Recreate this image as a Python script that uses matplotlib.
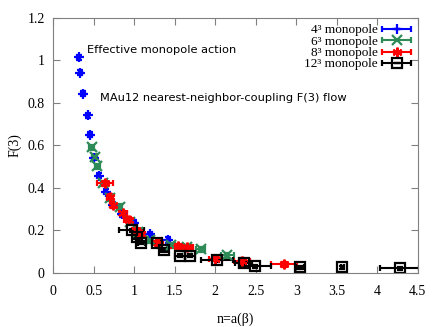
"""F(3) flow of the effective monopole action vs n=a(beta)."""

import matplotlib
matplotlib.use("Agg")
import matplotlib.pyplot as plt
from matplotlib.legend_handler import HandlerErrorbar

# 4^3 monopole
x4 = [0.317, 0.334, 0.367, 0.428, 0.453, 0.50, 0.564, 0.65, 0.74, 0.85, 1.0, 1.2, 1.42]
y4 = [1.013, 0.94, 0.843, 0.741, 0.649, 0.54, 0.456, 0.38, 0.32, 0.276, 0.235, 0.18, 0.154]
x4err = [0.02] * len(x4)
y4err = [0.012] * len(x4)

# 6^3 monopole
x6 = [0.474, 0.515, 0.543, 0.62, 0.70, 0.82, 0.95, 1.05, 1.19, 1.45, 1.65, 1.82, 2.15]
y6 = [0.59, 0.545, 0.50, 0.42, 0.35, 0.31, 0.24, 0.19, 0.154, 0.13, 0.12, 0.11, 0.083]
x6err = [0.03, 0.03, 0.03, 0.03, 0.03, 0.03, 0.03, 0.04, 0.04, 0.05, 0.05, 0.06, 0.08]
y6err = [0.012] * len(x6)

# 8^3 monopole
x8 = [0.64, 0.70, 0.74, 0.86, 0.93, 1.02, 1.08, 1.3, 1.54, 1.65, 2.0, 2.33, 2.85]
y8 = [0.42, 0.357, 0.318, 0.279, 0.248, 0.20, 0.18, 0.14, 0.125, 0.12, 0.065, 0.055, 0.04]
x8err = [0.1, 0.04, 0.04, 0.05, 0.05, 0.05, 0.05, 0.06, 0.08, 0.08, 0.08, 0.1, 0.16]
y8err = [0.012] * len(x8)

# 12^3 monopole
x12 = [0.967, 1.03, 1.09, 1.276, 1.367, 1.564, 1.69, 2.02, 2.35, 2.49, 3.05, 3.57, 4.28]
y12 = [0.20, 0.166, 0.141, 0.138, 0.107, 0.08, 0.08, 0.058, 0.045, 0.03, 0.025, 0.025, 0.02]
x12err = [0.15, 0.04, 0.04, 0.05, 0.05, 0.06, 0.06, 0.2, 0.1, 0.2, 0.05, 0.02, 0.24]
y12err = [0.008] * len(x12)

xticks = [0, 0.5, 1, 1.5, 2, 2.5, 3, 3.5, 4, 4.5]
yticks = [0, 0.2, 0.4, 0.6, 0.8, 1, 1.2]

plt.rcParams["font.family"] = ["Liberation Serif", "DejaVu Serif"]

fig = plt.figure(figsize=(4.36, 3.27), dpi=100)
ax = fig.add_axes([0.122, 0.166, 0.836, 0.780])

common = dict(linestyle="none", capsize=2.5, elinewidth=1.5, capthick=1.5,
              markersize=7, markeredgewidth=1.6)

ax.errorbar(x4, y4, xerr=x4err, yerr=y4err, color="#0000ff", marker="+",
            label="4³ monopole", **common)
ax.errorbar(x6, y6, xerr=x6err, yerr=y6err, color="#2e8b57", marker="x",
            label="6³ monopole", **common)
ax.errorbar(x8, y8, xerr=x8err, yerr=y8err, color="#ff0000", marker=(6, 2, 0),
            label="8³ monopole", **common)
ax.errorbar(x12, y12, xerr=x12err, yerr=y12err, color="black", marker="s",
            markerfacecolor="none", label="12³ monopole", **common)

ax.text(0.416, 1.05, "Effective monopole action", fontsize=8.2,
        family="DejaVu Sans", va="center", ha="left")
ax.text(0.577, 0.82, "MAu12 nearest-neighbor-coupling F(3) flow", fontsize=8.2,
        family="DejaVu Sans", va="center", ha="left")

ax.set_xlim(0, 4.5)
ax.set_ylim(0, 1.2)
ax.set_xticks(xticks)
ax.set_xticklabels([f"{t:g}" for t in xticks])
ax.set_yticks(yticks)
ax.set_yticklabels([f"{t:g}" for t in yticks])
ax.tick_params(direction="in", top=True, right=True, length=5,
               labelsize=10, color="#808080")
ax.tick_params(axis="x", pad=9)
ax.tick_params(axis="y", pad=6)
for s in ax.spines.values():
    s.set_color("#808080")
ax.set_xlabel("n=a(β)", fontsize=10, labelpad=10)
ax.set_ylabel("F(3)", fontsize=10)

ax.legend(loc="upper right", frameon=False, markerfirst=False, fontsize=9.5,
          labelspacing=-0.05, handlelength=2.2, handletextpad=0.3,
          handleheight=0.5, borderaxespad=0.3, borderpad=0.2,
          handler_map={type(ax.containers[0]): HandlerErrorbar(xerr_size=1.1, yerr_size=0)})

fig.savefig("out.png", dpi=100)
